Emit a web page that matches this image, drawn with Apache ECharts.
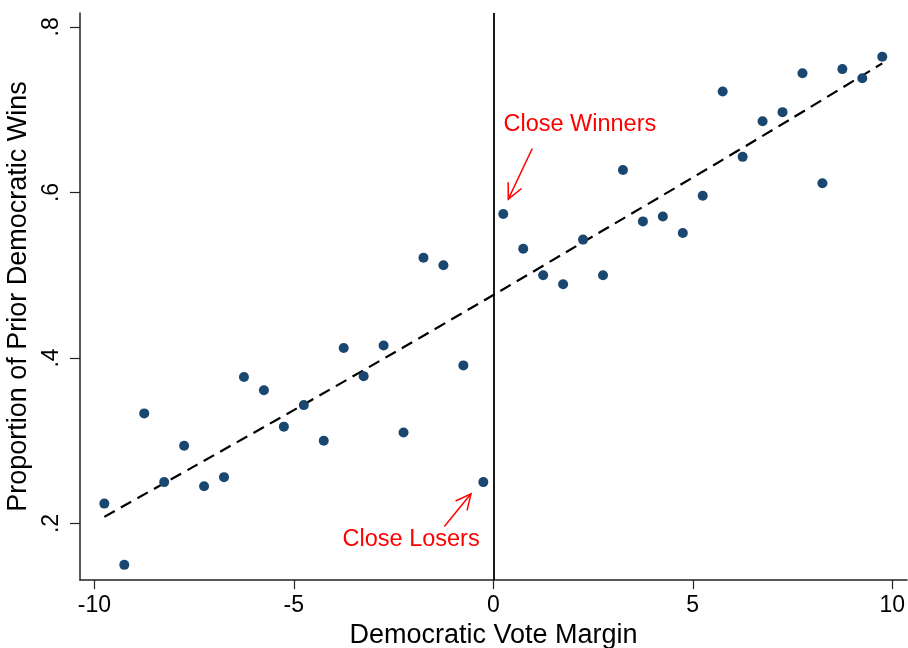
<!DOCTYPE html>
<html>
<head>
<meta charset="utf-8">
<script src="https://cdn.jsdelivr.net/npm/echarts@6/dist/echarts.min.js"></script>
<style>
html,body{margin:0;padding:0;background:#fff;}
#chart{width:908px;height:648px;}
</style>
</head>
<body>
<div id="chart"></div>
<script>
// Bin midpoints of the Democratic vote margin
const marginX = [-9.75,-9.25,-8.75,-8.25,-7.75,-7.25,-6.75,-6.25,-5.75,-5.25,
                 -4.75,-4.25,-3.75,-3.25,-2.75,-2.25,-1.75,-1.25,-0.75,-0.25,
                 0.25,0.75,1.25,1.75,2.25,2.75,3.25,3.75,4.25,4.75,
                 5.25,5.75,6.25,6.75,7.25,7.75,8.25,8.75,9.25,9.75];
// Proportion of prior Democratic wins in each bin
const priorWins = [0.224,0.150,0.333,0.250,0.294,0.245,0.256,0.377,0.361,0.317,
                   0.343,0.300,0.412,0.378,0.415,0.310,0.521,0.512,0.391,0.250,
                   0.574,0.532,0.500,0.489,0.543,0.500,0.627,0.565,0.571,0.551,
                   0.596,0.722,0.643,0.686,0.697,0.744,0.611,0.749,0.738,0.764];
// Fitted (dashed) curve
const fitX = [-9.75,-7.5,-5,-2.5,0,2.5,5,7.5,9.75];
const fitY = [0.208,0.269,0.337,0.406,0.476,0.547,0.618,0.690,0.756];
// Tick values
const xTicks = [-10,-5,0,5,10];
const yTicks = [0.2,0.4,0.6,0.8];
// Annotations
const annoText = ['Close Winners','Close Losers'];
const annoX = [2.17,-2.06];
const annoY = [0.6824,0.1803];
const arrowFromX = [0.977,-1.228];
const arrowFromY = [0.6531,0.1964];
const arrowToX = [0.376,-0.559];
const arrowToY = [0.5919,0.2358];

const FONT = '"Liberation Sans", Arial, Helvetica, sans-serif';
const chart = echarts.init(document.getElementById('chart'), null, {renderer:'canvas'});

const scatterData = marginX.map((x,i)=>[x, priorWins[i]]);
const fitData = fitX.map((x,i)=>[x, fitY[i]]);
const arrowData = arrowFromX.map((x,i)=>[x, arrowFromY[i], arrowToX[i], arrowToY[i]]);
const textData = annoX.map((x,i)=>[x, annoY[i], i]);

const option = {
  animation:false,
  backgroundColor:'#fff',
  grid:{left:80, right:1, top:13, bottom:68, containLabel:false, outerBoundsMode:'none'},
  xAxis:{
    type:'value', min:-10.36, max:10.37,
    name:'Democratic Vote Margin', nameLocation:'middle', nameGap:30,
    nameTextStyle:{fontFamily:FONT, fontSize:27, color:'#000'},
    axisLine:{show:true, onZero:false, lineStyle:{color:'#222', width:1.5}},
    axisTick:{show:true, length:9, lineStyle:{color:'#222', width:1.2}, customValues:xTicks},
    axisLabel:{fontFamily:FONT, fontSize:23, color:'#000', margin:14, customValues:xTicks,
      formatter:v=>String(v)},
    splitLine:{show:false}
  },
  yAxis:{
    type:'value', min:0.1317, max:0.8168,
    name:'Proportion of Prior Democratic Wins', nameLocation:'middle', nameGap:42, nameRotate:90,
    nameTextStyle:{fontFamily:FONT, fontSize:27, color:'#000'},
    axisLine:{show:true, onZero:false, lineStyle:{color:'#222', width:1.5}},
    axisTick:{show:true, length:10, lineStyle:{color:'#222', width:1.2}, customValues:yTicks},
    axisLabel:{fontFamily:FONT, fontSize:23, color:'#000', margin:17, rotate:90, customValues:yTicks,
      formatter:v=>v.toFixed(1).replace(/^0\./,'.')},
    splitLine:{show:false}
  },
  series:[
    {
      type:'line', data:fitData, smooth:0.3, showSymbol:false, symbol:'none', z:2,
      lineStyle:{color:'#000', width:2.2, type:[12,7]},
      markLine:{
        silent:true, symbol:['none','none'], label:{show:false},
        lineStyle:{color:'#000', width:1.8, type:'solid'},
        data:[{xAxis:0}]
      }
    },
    {
      type:'scatter', data:scatterData, symbol:'circle', symbolSize:10, z:5,
      itemStyle:{color:'#1a476f', opacity:1}
    },
    {
      type:'custom', data:arrowData, z:6, silent:true,
      encode:{x:[0,2], y:[1,3]},
      renderItem:function(params, api){
        const p0 = api.coord([api.value(0), api.value(1)]);
        const p1 = api.coord([api.value(2), api.value(3)]);
        const ang = Math.atan2(p0[1]-p1[1], p0[0]-p1[0]);
        const L = 17, spread = 0.45;
        const h1 = [p1[0]+L*Math.cos(ang+spread), p1[1]+L*Math.sin(ang+spread)];
        const h2 = [p1[0]+L*Math.cos(ang-spread), p1[1]+L*Math.sin(ang-spread)];
        const st = {stroke:'#ff0000', lineWidth:1.5, fill:null};
        return {type:'group', children:[
          {type:'line', shape:{x1:p0[0], y1:p0[1], x2:p1[0], y2:p1[1]}, style:st},
          {type:'polyline', shape:{points:[h1, p1, h2]}, style:st}
        ]};
      }
    },
    {
      type:'custom', data:textData, z:6, silent:true,
      encode:{x:0, y:1},
      renderItem:function(params, api){
        const p = api.coord([api.value(0), api.value(1)]);
        return {type:'text', x:p[0], y:p[1], style:{
          text:annoText[api.value(2)], fill:'#ff0000', fontSize:23.5, fontFamily:FONT,
          align:'center', verticalAlign:'middle'
        }};
      }
    }
  ]
};
chart.setOption(option);
</script>
</body>
</html>
